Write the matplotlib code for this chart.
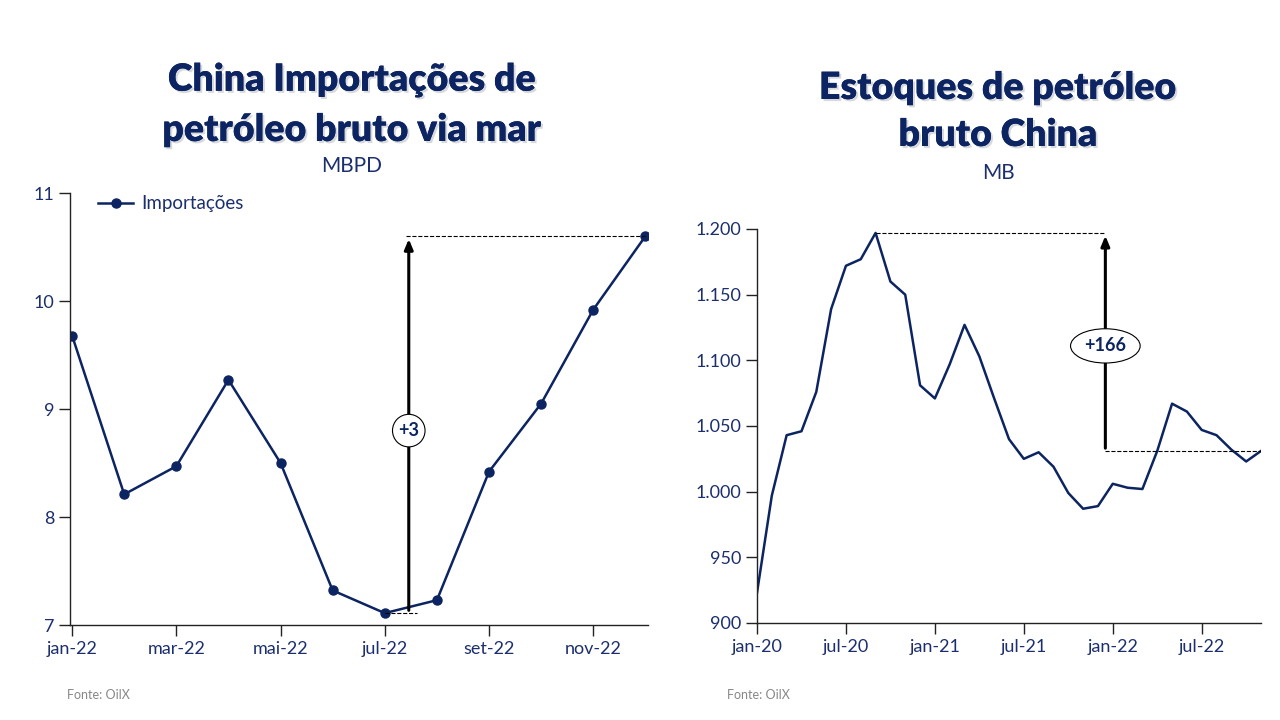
import matplotlib
matplotlib.use("Agg")
import matplotlib.pyplot as plt
import matplotlib.patheffects as pe
from matplotlib.ticker import FuncFormatter

# ---- data ----
imp_months = ["jan-22", "fev-22", "mar-22", "abr-22", "mai-22", "jun-22",
              "jul-22", "ago-22", "set-22", "out-22", "nov-22", "dez-22"]
imp_values = [9.68, 8.21, 8.47, 9.27, 8.50, 7.32, 7.11, 7.23, 8.42, 9.05, 9.92, 10.60]
imp_ticklabels = ["jan-22", "mar-22", "mai-22", "jul-22", "set-22", "nov-22"]

stock_ticklabels = ["jan-20", "jul-20", "jan-21", "jul-21", "jan-22", "jul-22"]
stock_values = [923, 997, 1043, 1046, 1076, 1139, 1172, 1177, 1197, 1160, 1150, 1081,
                1071, 1097, 1127, 1103, 1071, 1040, 1025, 1030, 1019, 999, 987, 989,
                1006, 1003, 1002, 1031, 1067, 1061, 1047, 1043, 1032, 1023, 1031]

NAVY = "#0c2461"
TXT = "#1b2f6e"
FONT = ["Lato", "DejaVu Sans"]
plt.rcParams['font.family'] = FONT

fig = plt.figure(figsize=(12.8, 7.2), dpi=100)
W, H = 1280, 720

def ax_at(l, r, t, b):
    return fig.add_axes([l / W, 1 - b / H, (r - l) / W, (b - t) / H])

def style(ax):
    for s in ["top", "right"]:
        ax.spines[s].set_visible(False)
    for s in ["left", "bottom"]:
        ax.spines[s].set_color("#222222")
        ax.spines[s].set_linewidth(1.0)
    ax.tick_params(axis="both", colors="#222222", labelcolor=TXT, labelsize=13,
                   length=8, width=1.0, direction="out")

shadow = [pe.withSimplePatchShadow(offset=(1.5, -1.5), shadow_rgbFace="#b0b4bd", alpha=0.5), pe.Normal()]

# ---- left chart ----
ax1 = ax_at(70, 648, 193, 625)
style(ax1)
x1 = list(range(len(imp_values)))
ax1.plot(x1, imp_values, color=NAVY, lw=1.8, marker="o", ms=6.5, label="Importações")
ax1.set_xlim(-0.04, 11.05)
ax1.set_ylim(7, 11)
ax1.set_yticks([7, 8, 9, 10, 11])
ax1.set_xticks([imp_months.index(m) for m in imp_ticklabels])
ax1.set_xticklabels(imp_ticklabels)
leg = ax1.legend(loc="upper left", frameon=False, fontsize=13.5, handlelength=1.9,
                 bbox_to_anchor=(0.035, 1.012), borderaxespad=0, handletextpad=0.4)
for t in leg.get_texts():
    t.set_color(TXT)

i_min = imp_values.index(min(imp_values))
i_max = len(imp_values) - 1
xa = i_min + 0.46
ax1.plot([i_min, xa + 0.15], [imp_values[i_min]] * 2, ls="--", color="black", lw=0.8)
ax1.plot([xa - 0.05, i_max], [imp_values[i_max]] * 2, ls="--", color="black", lw=0.8)
ax1.annotate("", xy=(xa, imp_values[i_max]), xytext=(xa, imp_values[i_min]),
             arrowprops=dict(arrowstyle="-|>,head_width=0.25,head_length=0.6", color="black", lw=2.2))
ax1.text(xa, 8.80, "+%d" % round(imp_values[i_max] - imp_values[i_min]), ha="center", va="center",
         fontsize=13, fontweight="bold", color=NAVY,
         bbox=dict(boxstyle="circle,pad=0.32", fc="white", ec="black", lw=0.8))

fig.text(352 / W, 1 - 80 / H, "China Importações de", ha="center", va="center", fontsize=27,
         fontweight="heavy", color=NAVY, path_effects=shadow)
fig.text(352 / W, 1 - 130 / H, "petróleo bruto via mar", ha="center", va="center", fontsize=27,
         fontweight="heavy", color=NAVY, path_effects=shadow)
fig.text(352 / W, 1 - 166 / H, "MBPD", ha="center", va="center", fontsize=15, color=TXT)

# ---- right chart ----
ax2 = ax_at(757, 1261, 229, 623)
style(ax2)
x2 = list(range(len(stock_values)))
ax2.plot(x2, stock_values, color=NAVY, lw=1.8)
ax2.set_xlim(0, len(stock_values) - 1)
ax2.set_ylim(900, 1200)
ax2.set_yticks(range(900, 1201, 50))
ax2.yaxis.set_major_formatter(FuncFormatter(lambda v, p: f"{int(v):,}".replace(",", ".")))
ax2.set_xticks(range(0, len(stock_values), 6))
ax2.set_xticklabels(stock_ticklabels)

j_max = stock_values.index(max(stock_values))
j_end = len(stock_values) - 1
xb = 23.5
ax2.plot([j_max, xb], [stock_values[j_max]] * 2, ls="--", color="black", lw=0.8)
ax2.plot([xb, j_end], [stock_values[j_end]] * 2, ls="--", color="black", lw=0.8)
ax2.annotate("", xy=(xb, stock_values[j_max]), xytext=(xb, stock_values[j_end]),
             arrowprops=dict(arrowstyle="-|>,head_width=0.25,head_length=0.6", color="black", lw=2.2))
ax2.text(xb, 1111, "+%d" % (stock_values[j_max] - stock_values[j_end]), ha="center", va="center",
         fontsize=13, fontweight="bold", color=NAVY,
         bbox=dict(boxstyle="ellipse,pad=0.2", fc="white", ec="black", lw=0.8))

fig.text(998 / W, 1 - 88 / H, "Estoques de petróleo", ha="center", va="center", fontsize=27,
         fontweight="heavy", color=NAVY, path_effects=shadow)
fig.text(998 / W, 1 - 135 / H, "bruto China", ha="center", va="center", fontsize=27,
         fontweight="heavy", color=NAVY, path_effects=shadow)
fig.text(998 / W, 1 - 173 / H, "MB", ha="center", va="center", fontsize=15, color=TXT)

fig.text(67 / W, 1 - 695 / H, "Fonte: OilX", ha="left", va="center", fontsize=9, color="#888888")
fig.text(727 / W, 1 - 695 / H, "Fonte: OilX", ha="left", va="center", fontsize=9, color="#888888")

fig.savefig("out.png", dpi=100, facecolor="white")
